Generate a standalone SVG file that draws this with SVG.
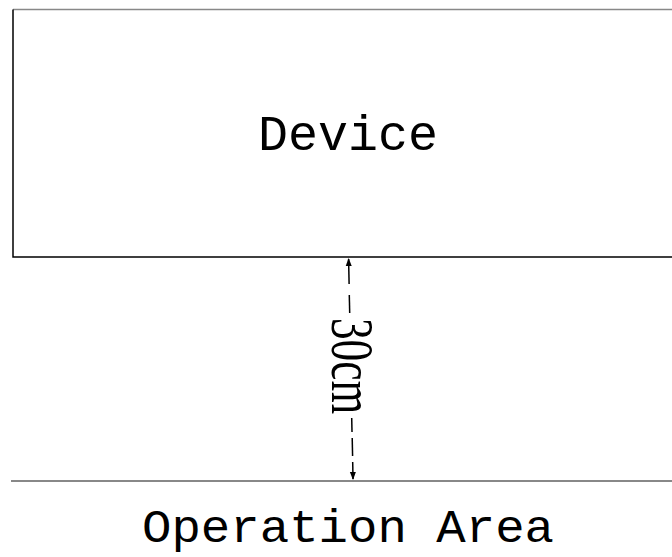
<svg xmlns="http://www.w3.org/2000/svg" width="672" height="557" viewBox="0 0 672 557">
<defs>
<style>
.big{font-family:"Liberation Mono","DejaVu Sans Mono",monospace;font-size:50px;fill:#000;text-anchor:middle}
.dim{font-family:"Liberation Serif","DejaVu Serif",serif;font-size:62px;fill:#000}
.conn{stroke:#000;stroke-width:1.5;fill:none}
</style>
<marker id="ah" markerWidth="8" markerHeight="12" refX="7" refY="3" orient="auto" markerUnits="userSpaceOnUse" viewBox="0 0 8 6">
<path d="M0,0 L8,3 L0,6 Z" fill="#000"/>
</marker>
</defs>
<g id="device">
<path d="M13,9.5 H672" stroke="#888" stroke-width="1.5" fill="none"/>
<path d="M13,9.5 V257 H672" stroke="#000" stroke-width="1.5" fill="none"/>
<text class="big" x="348" y="150">Device</text>
</g>
<g id="operation-area">
<path d="M11,481 H672" stroke="#888" stroke-width="1.8" fill="none"/>
<text class="big" x="348" y="542" style="font-size:47px" textLength="412" lengthAdjust="spacingAndGlyphs">Operation Area</text>
</g>
<g id="connectors">
<path class="conn" d="M349.1,284 L348.6,259" marker-end="url(#ah)"/>
<path class="conn" d="M349.3,295 L349.7,313"/>
<path class="conn" d="M351.7,418 L352,432"/>
<path class="conn" d="M352.2,438 L352.6,456"/>
<path class="conn" d="M352.7,462 L353,479" marker-end="url(#ah)"/>
<text class="dim" transform="translate(332,318) rotate(90)" x="0" y="0" textLength="96" lengthAdjust="spacingAndGlyphs">30cm</text>
</g>
</svg>
